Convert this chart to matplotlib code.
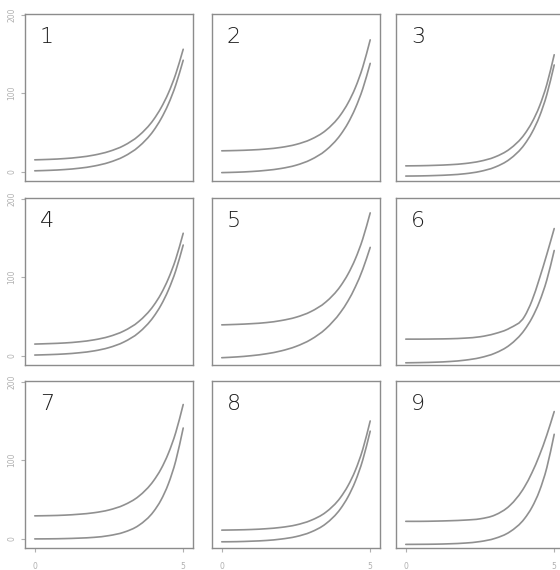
import matplotlib
matplotlib.use("Agg")
import matplotlib.pyplot as plt
from matplotlib.path import Path
from matplotlib.patches import PathPatch

# Sample positions along x
x = [0, 0.5, 1, 1.5, 2, 2.5, 3, 3.5, 4, 4.25, 4.5, 4.75, 5]

# Lower / upper curves of each numbered panel
lower_1 = [1.0, 1.6, 2.6, 4.3, 7.1, 11.7, 19.2, 31.7, 52.2, 67.1, 86.1, 110.6, 142]
upper_1 = [15, 15.6, 16.6, 18.3, 21.1, 25.7, 33.2, 45.7, 66.2, 81.1, 100.1, 124.6, 156]
lower_2 = [-1.3, -0.8, 0.1, 1.6, 4.0, 8.1, 15.2, 27, 47, 61.7, 80.9, 105.7, 138]
upper_2 = [26.5, 26.9, 27.6, 28.8, 30.9, 34.6, 41.1, 52.4, 72.3, 87.3, 107.1, 133.4, 168]
lower_3 = [-5.7, -5.5, -5, -4.2, -2.7, 0.2, 5.6, 15.8, 34.7, 49.7, 70, 98, 136]
upper_3 = [7.3, 7.5, 8.0, 8.8, 10.3, 13.2, 18.6, 28.8, 47.7, 62.7, 83, 111, 149]
lower_4 = [0.7, 1.25, 2.1, 3.6, 6.0, 10.2, 17.3, 29.2, 49.4, 64.2, 83.5, 108.4, 141]
upper_4 = [14.7, 15.3, 16.1, 17.6, 20.1, 24.3, 31.4, 43.4, 63.7, 78.6, 98.1, 123.2, 156]
lower_5 = [-2.7, -1.7, -0.1, 2.3, 6.0, 11.7, 20.5, 34.1, 55.2, 69.6, 87.7, 110.1, 138]
upper_5 = [39.2, 39.8, 40.7, 42.1, 44.7, 48.9, 56.1, 68.2, 88.7, 103.8, 123.4, 148.9, 182]
lower_6 = [-9.2, -8.9, -8.4, -7.5, -5.8, -2.7, 3.0, 13.5, 32.8, 47.9, 68.4, 96.3, 134]
upper_6 = [21, 21, 21.2, 21.5, 22.3, 24, 28, 35, 50, 70, 98, 129, 162]
lower_7 = [-0.4, -0.3, 0.0, 0.6, 1.6, 3.8, 8.1, 16.8, 34.4, 49.0, 69.8, 99.3, 141]
upper_7 = [29, 29.3, 29.9, 31.1, 33, 36.5, 42.8, 53.9, 73.7, 88.6, 108.7, 135.4, 171]
lower_8 = [-4.1, -3.9, -3.3, -2.4, -0.6, 2.5, 8.3, 18.8, 38.1, 53.1, 73.2, 100.4, 137]
upper_8 = [10.8, 11.1, 11.6, 12.6, 14.3, 17.4, 23.2, 33.5, 52.5, 67.3, 87.1, 113.9, 150]
lower_9 = [-7.4, -7.3, -7.1, -6.6, -5.7, -3.8, 0.2, 8.5, 25.5, 39.9, 60.5, 90.3, 133]
upper_9 = [22, 22, 22.3, 22.8, 23.6, 25.2, 30, 42, 66, 84, 106, 132, 162]

panel_labels = ["1", "2", "3", "4", "5", "6", "7", "8", "9"]
lowers = [lower_1, lower_2, lower_3, lower_4, lower_5, lower_6, lower_7, lower_8, lower_9]
uppers = [upper_1, upper_2, upper_3, upper_4, upper_5, upper_6, upper_7, upper_8, upper_9]

y_ticks = [0, 100, 200]
x_ticks = [0, 5]


def smooth_path(xs, ys):
    """Cubic Hermite (Bezier) path passing through every sample point."""
    n = len(xs)
    d = [(ys[i + 1] - ys[i]) / (xs[i + 1] - xs[i]) for i in range(n - 1)]
    m = [d[0]]
    for i in range(1, n - 1):
        h0, h1 = xs[i] - xs[i - 1], xs[i + 1] - xs[i]
        m.append((d[i - 1] * h1 + d[i] * h0) / (h0 + h1))
    m.append(d[-1])
    verts = [(xs[0], ys[0])]
    codes = [Path.MOVETO]
    for i in range(n - 1):
        h = xs[i + 1] - xs[i]
        verts += [(xs[i] + h / 3, ys[i] + m[i] * h / 3),
                  (xs[i + 1] - h / 3, ys[i + 1] - m[i + 1] * h / 3),
                  (xs[i + 1], ys[i + 1])]
        codes += [Path.CURVE4] * 3
    return Path(verts, codes)


W, H = 560, 570
fig = plt.figure(figsize=(W / 100, H / 100), dpi=100)
fig.patch.set_facecolor("white")

col_left = [25, 212, 396]
row_top = [14, 198, 381]
pw, ph = 168, 167

line_col = "#909090"
box_col = "#8c8c8c"
tick_col = "#b0b0b0"

for i in range(9):
    r, c = divmod(i, 3)
    ax = fig.add_axes([col_left[c] / W, 1 - (row_top[r] + ph) / H, pw / W, ph / H])
    for series in (uppers[i], lowers[i]):
        ax.add_patch(PathPatch(smooth_path(x, series), facecolor="none",
                               edgecolor=line_col, lw=1.2, capstyle="round"))
    ax.set_xlim(-0.33, 5.33)
    ax.set_ylim(-12, 201)
    for s in ax.spines.values():
        s.set_color(box_col)
        s.set_linewidth(1.0)
    ax.tick_params(colors=tick_col, labelcolor=tick_col, length=3, width=0.8,
                   labelsize=5.5, pad=3)
    if c == 0:
        ax.set_yticks(y_ticks)
        ax.set_yticklabels([str(v) for v in y_ticks], rotation=90, va="center")
    else:
        ax.set_yticks([])
    if r == 2:
        ax.set_xticks(x_ticks)
        ax.set_xticklabels([str(v) for v in x_ticks])
        ax.tick_params(axis="x", pad=7)
    else:
        ax.set_xticks([])
    ax.text(0.13, 0.865, panel_labels[i], transform=ax.transAxes,
            ha="center", va="center", fontsize=16, color="#1e1e1e",
            family="DejaVu Sans", fontweight="light")

fig.savefig("out.png", dpi=100, facecolor="white")
